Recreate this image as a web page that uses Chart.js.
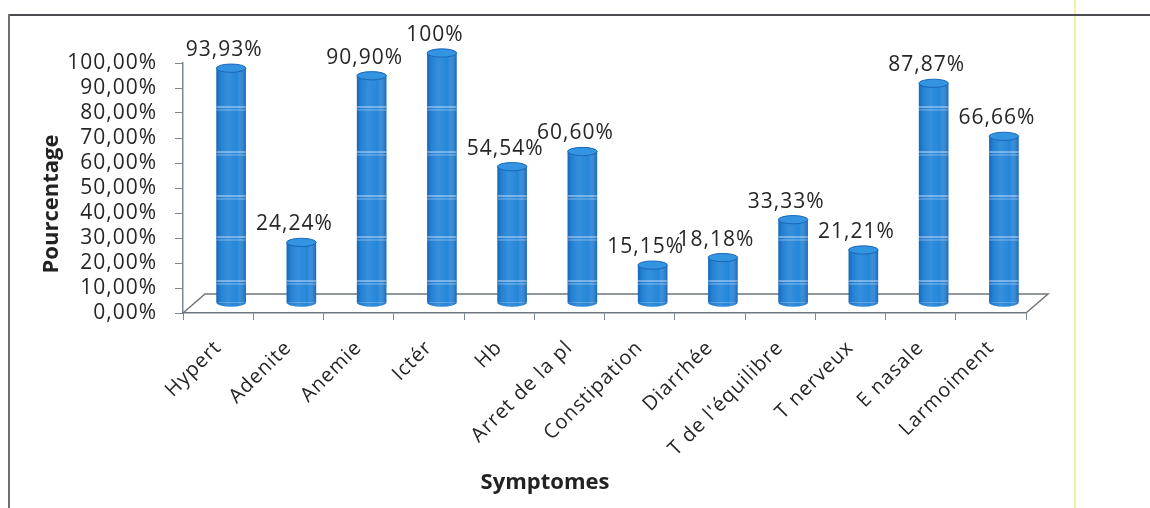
<!DOCTYPE html>
<html lang="fr">
<head>
<meta charset="utf-8">
<title>Symptomes</title>
<script src="https://cdn.jsdelivr.net/npm/chart.js@4.4.1/dist/chart.umd.min.js"></script>
<style>
  html, body { margin: 0; padding: 0; background: #ffffff; }
  #wrap { position: relative; width: 1150px; height: 508px; overflow: hidden; }
  #chart { position: absolute; left: 0; top: 0; }
  .frame-top { position: absolute; left: 8px; top: 14px; width: 1142px; height: 2px; background: #4a4c50; }
  .frame-left { position: absolute; left: 8px; top: 14px; width: 2px; height: 494px; background: #6a6d72; }
  .frame-edge { position: absolute; left: 1074px; top: 0; width: 2px; height: 508px; background: #f6f1a0; }
</style>
</head>
<body>
<div id="wrap">
  <canvas id="chart" width="1150" height="508"></canvas>
  <div class="frame-edge"></div>
  <div class="frame-top"></div>
  <div class="frame-left"></div>
</div>
<script>
// Symptom categories and their share of cases (%)
const categories = ['Hypert', 'Adenite', 'Anemie', 'Ictér', 'Hb', 'Arret de la pl',
  'Constipation', 'Diarrhée', "T de l'équilibre", 'T nerveux', 'E nasale', 'Larmoiment'];
const percentages = [93.93, 24.24, 90.90, 100, 54.54, 60.60, 15.15, 18.18, 33.33, 21.21, 87.87, 66.66];

// Value axis ticks
const yTicks = [0, 10, 20, 30, 40, 50, 60, 70, 80, 90, 100];

// Axis titles
const yTitle = 'Pourcentage';
const xTitle = 'Symptomes';

// Light bands that run across the cylinders (in % of the value axis)
const bandLevels = [10.4, 28, 44.4, 62, 80];

const FONT = '"Open Sans", "Noto Sans", sans-serif';
const SPACING = '1px';

// 3D look: depth of the floor and position of the cylinders inside it
const DEPTH_X = 22, DEPTH_Y = 19;
const SHIFT_X = 13, SHIFT_Y = 10;

function fmtPct(v) {
  return (Number.isInteger(v) ? String(v) : v.toFixed(2).replace('.', ',')) + '%';
}

const cylinderPlugin = {
  id: 'cylinders',
  beforeDraw(chart) {
    chart.ctx.letterSpacing = SPACING;
  },
  beforeDatasetsDraw(chart) {
    const { ctx, chartArea, scales } = chart;
    const y0 = scales.y.getPixelForValue(0);
    ctx.save();
    ctx.strokeStyle = '#6f757d';
    ctx.lineWidth = 1.5;
    ctx.beginPath();
    ctx.moveTo(chartArea.left, y0);
    ctx.lineTo(chartArea.left + DEPTH_X, y0 - DEPTH_Y);
    ctx.lineTo(chartArea.right + DEPTH_X, y0 - DEPTH_Y);
    ctx.lineTo(chartArea.right, y0);
    ctx.stroke();
    ctx.restore();
    // cylinders sit half-way into the floor
    ctx.save();
    ctx.translate(SHIFT_X, -SHIFT_Y);
  },
  afterDatasetsDraw(chart) {
    const { ctx, scales } = chart;
    const meta = chart.getDatasetMeta(0);
    meta.data.forEach((bar) => {
      const { x, y, base, width } = bar.getProps(['x', 'y', 'base', 'width'], true);
      const l = x - width / 2, r = x + width / 2;
      const ry = Math.max(3, width * 0.14);

      const shade = ctx.createLinearGradient(l, 0, r, 0);
      shade.addColorStop(0, 'rgba(10,60,140,0.45)');
      shade.addColorStop(0.12, 'rgba(10,60,140,0.1)');
      shade.addColorStop(0.4, 'rgba(255,255,255,0.08)');
      shade.addColorStop(0.7, 'rgba(255,255,255,0.0)');
      shade.addColorStop(1, 'rgba(10,60,140,0.45)');

      // bottom rounding
      ctx.beginPath();
      ctx.ellipse(x, base, width / 2, ry, 0, 0, Math.PI);
      ctx.fillStyle = '#2486d9';
      ctx.fill();
      ctx.fillStyle = shade;
      ctx.fill();

      // body shading
      ctx.fillStyle = shade;
      ctx.fillRect(l, y, width, base - y);

      // light bands across the body
      ctx.save();
      ctx.beginPath();
      ctx.rect(l, y + ry, width, base - y - ry);
      ctx.clip();
      ctx.lineWidth = 1.2;
      bandLevels.forEach((lv) => {
        const py = scales.y.getPixelForValue(lv) + 4;
        ctx.strokeStyle = 'rgba(235,240,255,0.8)';
        ctx.beginPath();
        ctx.moveTo(l, py);
        ctx.lineTo(r, py);
        ctx.stroke();
        ctx.strokeStyle = 'rgba(235,240,255,0.45)';
        ctx.beginPath();
        ctx.moveTo(l, py + 3);
        ctx.lineTo(r, py + 3);
        ctx.stroke();
      });
      ctx.restore();

      // top cap
      ctx.beginPath();
      ctx.ellipse(x, y, width / 2, ry, 0, 0, Math.PI * 2);
      ctx.fillStyle = '#3394e2';
      ctx.fill();
      ctx.lineWidth = 1;
      ctx.strokeStyle = '#1a66b8';
      ctx.stroke();
    });
    ctx.restore();
  },
  afterDraw(chart) {
    const { ctx } = chart;
    const meta = chart.getDatasetMeta(0);
    ctx.save();
    ctx.letterSpacing = SPACING;
    ctx.fillStyle = '#262626';
    ctx.textAlign = 'center';
    ctx.textBaseline = 'middle';

    // value labels above each cylinder
    ctx.font = '21px ' + FONT;
    meta.data.forEach((bar, i) => {
      const { x, y } = bar.getProps(['x', 'y'], true);
      ctx.fillText(fmtPct(percentages[i]), x + 6, y - 28);
    });

    // axis titles
    ctx.letterSpacing = '0px';
    ctx.font = 'bold 22px ' + FONT;
    ctx.fillStyle = '#222222';
    ctx.fillText(xTitle, 545, 483);
    ctx.save();
    ctx.translate(52, 204);
    ctx.rotate(-Math.PI / 2);
    ctx.fillText(yTitle, 0, 0);
    ctx.restore();
    ctx.restore();
  }
};

new Chart(document.getElementById('chart'), {
  type: 'bar',
  data: {
    labels: categories,
    datasets: [{
      label: yTitle,
      data: percentages,
      backgroundColor: '#2486d9',
      borderWidth: 0,
      barPercentage: 0.6,
      categoryPercentage: 0.7,
      clip: false
    }]
  },
  options: {
    responsive: false,
    animation: false,
    devicePixelRatio: 1,
    layout: { padding: { left: 0, top: 63, right: 124, bottom: 10 } },
    plugins: { legend: { display: false }, tooltip: { enabled: false } },
    scales: {
      y: {
        min: 0,
        max: 100,
        afterFit(scale) { scale.width = 183; },
        afterBuildTicks(scale) { scale.ticks = yTicks.map(v => ({ value: v })); },
        ticks: {
          autoSkip: false,
          callback: (v) => v.toFixed(2).replace('.', ',') + '%',
          font: { family: FONT, size: 21 },
          color: '#262626',
          padding: 18
        },
        grid: { drawOnChartArea: false, drawTicks: true, tickLength: 8, color: '#7d8794' },
        border: { display: true, color: '#7d8794', width: 1.5 },
        title: { display: false }
      },
      x: {
        afterFit(scale) { scale.height = 185; },
        ticks: {
          minRotation: 45,
          maxRotation: 45,
          autoSkip: false,
          font: { family: FONT, size: 20 },
          color: '#262626',
          padding: 16
        },
        grid: { offset: true, drawOnChartArea: false, drawTicks: true, tickLength: 7, color: '#7d8794' },
        border: { display: true, color: '#6f757d', width: 1.5 },
        title: { display: false }
      }
    }
  },
  plugins: [cylinderPlugin]
});
</script>
</body>
</html>
